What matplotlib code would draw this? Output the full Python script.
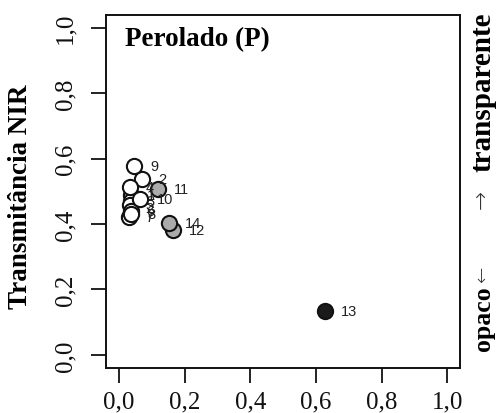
import matplotlib.pyplot as plt

# Perolado (P) - opacity vs NIR transmittance, one point per sample
ids = ["1", "2", "3", "4", "5", "6", "7", "8", "9", "10", "11", "12", "13", "14"]
x_vals = [0.035, 0.069, 0.036, 0.033, 0.032, 0.035, 0.030, 0.036, 0.045, 0.065, 0.119, 0.163, 0.627, 0.152]
y_vals = [0.490, 0.537, 0.470, 0.514, 0.458, 0.440, 0.421, 0.432, 0.579, 0.478, 0.506, 0.382, 0.133, 0.404]
fills = ["white", "white", "white", "white", "white", "white", "white", "white",
         "white", "white", "#ababab", "#ababab", "#1a1a1a", "#ababab"]

ticks = [0.0, 0.2, 0.4, 0.6, 0.8, 1.0]
tick_labels = ["0,0", "0,2", "0,4", "0,6", "0,8", "1,0"]

serif = ["Liberation Serif", "DejaVu Serif"]
sans = ["Liberation Sans", "DejaVu Sans"]

fig = plt.figure(figsize=(4.96, 4.14), dpi=100)
W, H = 496, 414
ax = fig.add_axes([105.7 / W, 1 - 369 / H, (460 - 105.7) / W, (369 - 15.7) / H])

# grey / black points under the labels, white ones on top (as in the original)
for xi, yi, lab, fc in zip(x_vals, y_vals, ids, fills):
    z = 4 if fc == "white" else 2
    ax.scatter(xi, yi, s=120, facecolor=fc, edgecolor="#111111", linewidths=1.5, zorder=z)
    ax.annotate(lab, (xi, yi), xytext=(11.5, 0), textcoords="offset points",
                ha="left", va="center", fontsize=10.5, family=sans, color="#222222", zorder=3)

ax.set_xlim(-0.041, 1.039)
ax.set_ylim(-0.04, 1.04)
ax.set_xticks(ticks)
ax.set_xticklabels(tick_labels, family=serif, fontsize=18)
ax.set_yticks(ticks)
ax.set_yticklabels(tick_labels, family=serif, fontsize=18, rotation=90, va="center")
ax.tick_params(axis="x", direction="out", length=11, width=1.3, pad=5, colors="#111111")
ax.tick_params(axis="y", direction="out", length=11, width=1.3, pad=10, colors="#111111")
for sp in ax.spines.values():
    sp.set_linewidth(1.4)
    sp.set_color("#111111")

fig.text(125 / W, 1 - 27 / H, "Perolado (P)", ha="left", va="top",
         family=serif, fontsize=19.5, fontweight="bold")

fig.text(21 / W, 1 - 197 / H, "Transmitância NIR", rotation=90, ha="center", va="center",
         family=serif, fontsize=19.5, fontweight="bold")

# right side: opaco <-  ...  -> transparente
fig.text(483 / W, 1 - 351 / H, "opaco", rotation=90, ha="center", va="bottom",
         family=serif, fontsize=18.5, fontweight="bold")
fig.text(481 / W, 1 - 283 / H, "\u2190", rotation=90, ha="center", va="bottom",
         family="DejaVu Sans", fontsize=14, fontweight="light", color="#333333")
fig.text(481 / W, 1 - 190 / H, "\u2192", rotation=90, ha="center", va="top",
         family="DejaVu Sans", fontsize=16.5, fontweight="light", color="#333333")
fig.text(483 / W, 1 - 13 / H, "transparente", rotation=90, ha="center", va="top",
         family=serif, fontsize=21, fontweight="bold")

fig.savefig("out.png", dpi=100)
